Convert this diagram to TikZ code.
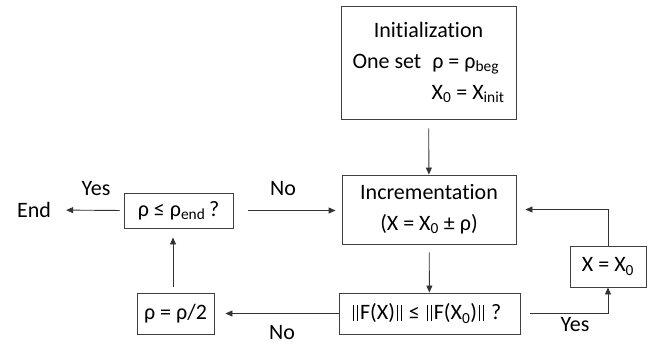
\documentclass[tikz,border=0pt]{standalone}
\usepackage{fontspec}
\setmainfont{Carlito}[Ligatures=NoCommon]
\usetikzlibrary{arrows.meta}
\newcommand{\lowtxt}[1]{\textsubscript{#1}}
\newcommand{\nrm}{\makebox[9pt][c]{\rule[-1.5pt]{1.1pt}{16.5pt}\hspace{2.6pt}\rule[-1.5pt]{1.1pt}{16.5pt}}}

\begin{document}
\begin{tikzpicture}[
    x=1pt, y=-1pt,
    % Node styles
    box/.style={
        rectangle, draw=black!75, line width=0.9pt,
        minimum width=#1, inner sep=0pt, align=center,
        font=\fontsize{22}{31}\selectfont
    },
    box/.default=80pt,
    lbl/.style={font=\fontsize{22}{26}\selectfont, inner sep=0pt},
    arr/.style={
        -{Triangle[length=7pt, width=6pt]}, line width=0.9pt, draw=black!80
    },
]
\useasboundingbox (0,0) rectangle (654,345);

% ===============================================================
% Main column
% ===============================================================

\node[box=175pt, minimum height=113pt] (init) at (428.5,62.5) {
    Initialization\\
    \makebox[152pt][l]{One set\hspace{6pt} ρ = ρ\lowtxt{beg}}\\
    \makebox[152pt][r]{X\lowtxt{0} = X\lowtxt{init}}
};

\node[box=174pt, minimum height=69pt] (incr) at (429,209.5) {
    Incrementation\\
    (X = X\lowtxt{0} ± ρ)
};

\node[box=181pt, minimum height=41pt] (norm) at (429.5,313.5) {
    \nrm F(X)\nrm{} ≤ \nrm F(X\lowtxt{0})\nrm{} ?
};

% ===============================================================
% Side boxes
% ===============================================================

\node[box=76pt, minimum height=41pt] (reset) at (608,266.5) {X = X\lowtxt{0}};

\node[box=77pt, minimum height=41pt] (halve) at (175.5,313.5) {ρ = ρ/2};

\node[box=109pt, minimum height=35pt] (check) at (178.5,210.5) {ρ ≤ ρ\lowtxt{end}\,?};

\node[lbl] (stop) at (34,210) {End};

% Arrows
\draw[arr, shorten <=9pt] (init) -- (incr);
\draw[arr, shorten <=8pt] (incr) -- (norm);
\draw[arr, shorten <=10pt] (norm.east) -| (reset.south);
\draw[arr, shorten >=9pt] (reset.north) |- (incr.east);
\draw[arr, shorten >=11pt] (norm.west) -- (halve.east);
\draw[arr, shorten <=6pt, shorten >=9pt] ([xshift=-2.5pt]halve.north) -- ([xshift=-2.5pt]halve.north |- check.south);
\draw[arr, shorten <=4pt, shorten >=15pt] (check.west) -- (stop.east);
\draw[arr, shorten <=15pt, shorten >=6pt] (check.east) -- (check.east -| incr.west);

% Branch labels
\node[lbl] (yesend) at (96,189) {Yes};
\node[lbl] (nocheck) at (283,189) {No};
\node[lbl] (nonorm) at (282,333) {No};
\node[lbl] (yesnorm) at (575,325) {Yes};

\end{tikzpicture}
\end{document}
